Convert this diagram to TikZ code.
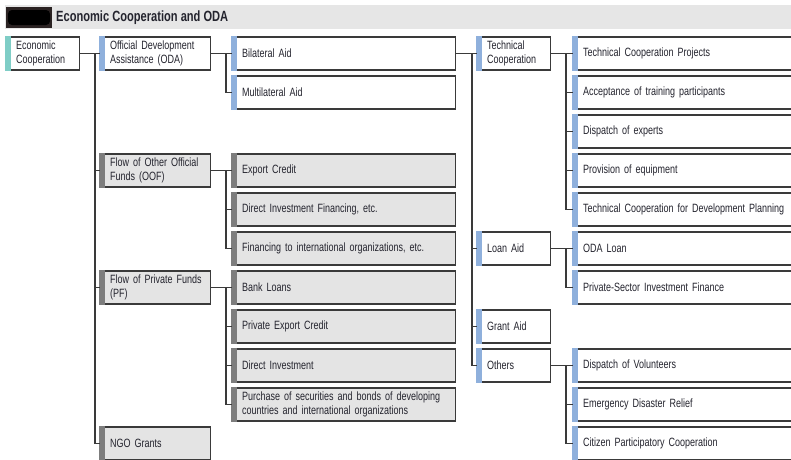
\documentclass[tikz,border=0pt]{standalone}
\usepackage{fontspec}
\setmainfont{Liberation Sans}[FakeStretch=0.75]
\hyphenpenalty=10000
\definecolor{linegray}{HTML}{3A3A3A}
\definecolor{txtgray}{HTML}{24242E}
\definecolor{boxgray}{HTML}{E4E4E4}
\definecolor{headgray}{HTML}{E6E6E6}
\definecolor{labeldark}{HTML}{2B2323}
\definecolor{accteal}{HTML}{7FCDC6}
\definecolor{accblue}{HTML}{8FB0DC}
\definecolor{accgray}{HTML}{7D7D7D}
\tikzset{
  box/.style={draw=linegray,line width=1.1pt,fill=white,text=txtgray,minimum height=33pt,
    inner xsep=9.5pt,inner ysep=0pt,align=left,anchor=west,font=\fontsize{12}{14.5}\selectfont},
  gbox/.style={box,fill=boxgray},
  conn/.style={draw=linegray,line width=1.1pt}
}
\begin{document}
\begin{tikzpicture}[x=1pt,y=-1pt]
\useasboundingbox (0,0) rectangle (791,459);
\clip (0,0) rectangle (791,459);
% header
\fill[headgray] (5,5) rectangle (791,29);
\fill[labeldark] (6,7) rectangle (52,28);
\fill[black,rounded corners=4pt] (8,10) rectangle (50,25);
\node[anchor=west,inner sep=0pt,font=\fontsize{14.8}{16}\selectfont\bfseries,text=txtgray] (title) at (56,17.5) {Economic Cooperation and ODA};
% first two levels
\node[box,text width=54pt] (ec) at (6,53.5) {Economic\\Cooperation};
\node[box,text width=91pt] (oda) at (100,53.5) {Official Development\\Assistance (ODA)};
\node[gbox,text width=91pt] (oof) at (100,170.5) {\mbox{Flow of Other Official}\\Funds (OOF)};
\node[gbox,text width=91pt] (pf) at (100,287.5) {\mbox{Flow of Private Funds}\\(PF)};
\node[gbox,text width=91pt] (ngo) at (100,443.5) {NGO Grants};
% third level
\node[box,text width=204pt] (bil) at (232,53.5) {Bilateral Aid};
\node[box,text width=204pt] (multi) at (232,92.5) {Multilateral Aid};
\node[gbox,text width=204pt] (expcr) at (232,170.5) {Export Credit};
\node[gbox,text width=204pt] (dirfin) at (232,209.5) {Direct Investment Financing, etc.};
\node[gbox,text width=204pt] (finint) at (232,248.5) {Financing to international organizations, etc.};
\node[gbox,text width=204pt] (bank) at (232,287.5) {Bank Loans};
\node[gbox,text width=204pt] (pexp) at (232,326.5) {Private Export Credit};
\node[gbox,text width=204pt] (dirinv) at (232,365.5) {Direct Investment};
\node[gbox,text width=204pt] (purch) at (232,404.5) {Purchase of securities and bonds of developing\\countries and international organizations};
% fourth level
\node[box,text width=54pt] (tc) at (477,53.5) {Technical\\Cooperation};
\node[box,text width=54pt] (loan) at (477,248.5) {Loan Aid};
\node[box,text width=54pt] (grant) at (477,326.5) {Grant Aid};
\node[box,text width=54pt] (other) at (477,365.5) {Others};
% fifth level
\node[box,text width=240pt] (tcp) at (573,53.5) {Technical Cooperation Projects};
\node[box,text width=240pt] (accept) at (573,92.5) {Acceptance of training participants};
\node[box,text width=240pt] (dexp) at (573,131.5) {Dispatch of experts};
\node[box,text width=240pt] (equip) at (573,170.5) {Provision of equipment};
\node[box,text width=240pt] (plan) at (573,209.5) {Technical Cooperation for Development Planning};
\node[box,text width=240pt] (odaloan) at (573,248.5) {ODA Loan};
\node[box,text width=240pt] (psif) at (573,287.5) {Private-Sector Investment Finance};
\node[box,text width=240pt] (vol) at (573,365.5) {Dispatch of Volunteers};
\node[box,text width=240pt] (relief) at (573,404.5) {Emergency Disaster Relief};
\node[box,text width=240pt] (citizen) at (573,443.5) {Citizen Participatory Cooperation};
% accent bars
\fill[accteal] ([xshift=-0.6pt,yshift=0.6pt]ec.north west) rectangle ([xshift=4.5pt,yshift=-0.6pt]ec.south west);
\foreach \n in {oda,bil,multi,tc,loan,grant,other,tcp,accept,dexp,equip,plan,odaloan,psif,vol,relief,citizen}
  \fill[accblue] ([xshift=-0.6pt,yshift=0.6pt]\n.north west) rectangle ([xshift=4.5pt,yshift=-0.6pt]\n.south west);
\foreach \n in {oof,pf,ngo,expcr,dirfin,finint,bank,pexp,dirinv,purch}
  \fill[accgray] ([xshift=-0.6pt,yshift=0.6pt]\n.north west) rectangle ([xshift=4.5pt,yshift=-0.6pt]\n.south west);
% connectors
\draw[conn] (ec.east) -- (oda.west);
\foreach \n in {oof,pf,ngo} \draw[conn] ([xshift=-5pt]oda.west) |- (\n.west);
\draw[conn] (oda.east) -- (bil.west);
\draw[conn] ([xshift=-6pt]bil.west) |- (multi.west);
\draw[conn] (oof.east) -- (expcr.west);
\foreach \n in {dirfin,finint} \draw[conn] ([xshift=-6pt]expcr.west) |- (\n.west);
\draw[conn] (pf.east) -- (bank.west);
\foreach \n in {pexp,dirinv,purch} \draw[conn] ([xshift=-6pt]bank.west) |- (\n.west);
\draw[conn] (bil.east) -- (tc.west);
\foreach \n in {loan,grant,other} \draw[conn] ([xshift=-5pt]tc.west) |- (\n.west);
\draw[conn] (tc.east) -- (tcp.west);
\foreach \n in {accept,dexp,equip,plan} \draw[conn] ([xshift=-7pt]tcp.west) |- (\n.west);
\draw[conn] (loan.east) -- (odaloan.west);
\draw[conn] ([xshift=-7pt]odaloan.west) |- (psif.west);
\draw[conn] (other.east) -- (vol.west);
\foreach \n in {relief,citizen} \draw[conn] ([xshift=-7pt]vol.west) |- (\n.west);
\end{tikzpicture}
\end{document}
